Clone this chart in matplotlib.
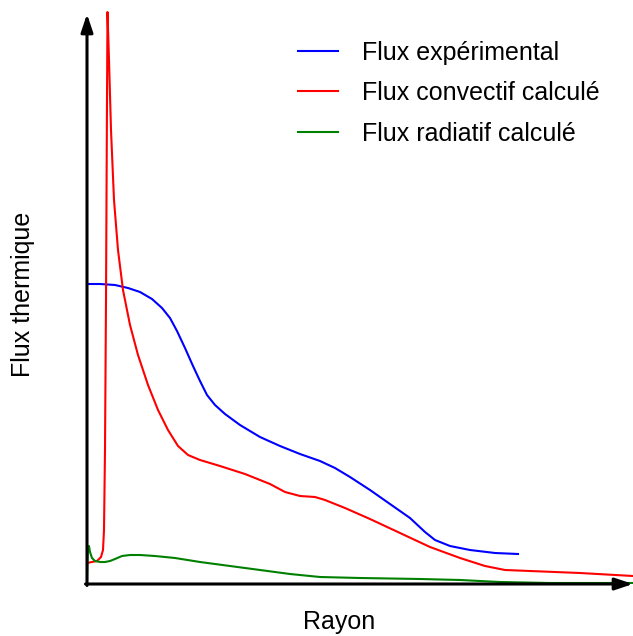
import numpy as np
import matplotlib.pyplot as plt

plt.rcParams['font.family'] = ['Liberation Sans', 'DejaVu Sans']

# curves (arbitrary units: rayon, flux)
ray_exp = [0, 13, 28, 41, 53, 65, 75, 83, 90, 98, 106, 113, 120, 128, 138, 153, 173, 193, 213,
           233, 248, 263, 283, 303, 323, 338, 348, 363, 383, 408, 431]
flux_exp = [300, 300, 299, 296, 292, 285, 276, 266, 253, 236, 218, 203, 189, 179, 170, 159, 147,
            138, 130, 123, 116, 107, 94, 80, 66, 52, 44, 38, 34, 31, 30]

ray_conv = [0, 5, 10, 14, 16, 17, 18, 19, 20, 20.5, 22, 24, 27, 31, 36, 43, 51, 61, 71, 81, 91,
            101, 113, 133, 158, 183, 198, 213, 228, 238, 258, 283, 313, 343, 373, 398, 418, 443,
            493, 546]
flux_conv = [21, 22, 23, 27, 34, 54, 134, 284, 484, 572, 524, 454, 384, 334, 294, 259, 229, 199,
             174, 154, 138, 129, 124, 118, 110, 100, 92, 88, 87, 84, 76, 65, 51, 37, 26, 18, 14,
             13, 11, 8]

ray_rad = [0, 0.5, 1, 2, 3, 5, 8, 13, 18, 23, 28, 35, 43, 53, 68, 88, 113, 143, 173, 203, 233,
           273, 333, 373, 413, 463, 546]
flux_rad = [4, 24, 36, 38, 32, 26, 23, 22, 22, 23, 25, 28, 29, 29, 28, 26, 22, 18, 14, 10, 7, 6,
            5, 4, 2, 1, 1]

labels = ['Flux expérimental', 'Flux convectif calculé', 'Flux radiatif calculé']

fig = plt.figure(figsize=(6.33, 6.36), dpi=100)
ax = fig.add_axes([87 / 633, 52 / 636, 546 / 633, 574 / 636])

ax.plot(ray_exp, flux_exp, color='#0000ff', lw=1.5, label=labels[0])
ax.plot(ray_conv, flux_conv, color='#ff0000', lw=1.5, label=labels[1])
ax.plot(ray_rad, flux_rad, color='#008000', lw=1.5, label=labels[2])

ax.set_xlim(0, 546)
ax.set_ylim(0, 574)
for s in ax.spines.values():
    s.set_visible(False)
ax.set_xticks([])
ax.set_yticks([])

# axes drawn as arrows
arr = dict(arrowstyle='-|>,head_length=0.9,head_width=0.3', lw=2.2, color='k',
           shrinkA=0, shrinkB=0, mutation_scale=12)
ax.annotate('', xy=(0, 570), xytext=(0, -1.5), arrowprops=arr, annotation_clip=False)
ax.annotate('', xy=(546, 0), xytext=(-1.5, 0), arrowprops=arr, annotation_clip=False)

fig.text(339.5 / 633, 1 - 622 / 636, 'Rayon', fontsize=18, ha='center', va='center')
fig.text(23 / 633, 1 - 294 / 636, 'Flux thermique', fontsize=18, ha='center', va='center',
         rotation=90)

ax.legend(loc='upper left', bbox_to_anchor=(0.345, 0.986), frameon=False, fontsize=18,
          handlelength=1.6, handletextpad=0.96, labelspacing=0.66)

fig.savefig('out.png', dpi=100)
